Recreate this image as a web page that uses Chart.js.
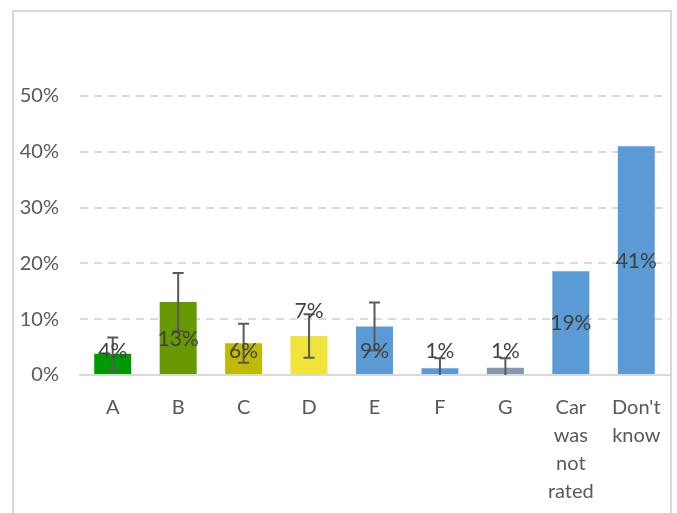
<!DOCTYPE html>
<html>
<head>
<meta charset="utf-8">
<script src="https://cdn.jsdelivr.net/npm/chart.js@4"></script>
<style>
  html, body { margin: 0; padding: 0; background: #ffffff; overflow: hidden; }
  #frame { position: absolute; left: 12px; top: 10px; width: 656px; height: 530px; border: 2px solid #d9d9d9; background: #fff; }
  canvas { display: block; }
</style>
</head>
<body>
<div id="frame"><canvas id="c" width="656" height="501"></canvas></div>
<script>
// ---- data ----
const categories = ["A", "B", "C", "D", "E", "F", "G", ["Car", "was", "not", "rated"], ["Don't", "know"]];
const values = [3.8, 13.1, 5.7, 7.0, 8.7, 1.2, 1.3, 18.6, 41.0];
const labels = ["4%", "13%", "6%", "7%", "9%", "1%", "1%", "19%", "41%"];
const errors = [2.9, 5.2, 3.5, 3.9, 4.3, 1.8, 1.7, null, null];
const yTicks = [0, 10, 20, 30, 40, 50];

const barColors = ["#009a00", "#669900", "#c0bb00", "#f0e33c", "#5b9bd5", "#5b9bd5", "#8497b0", "#5b9bd5", "#5b9bd5"];
const FONT = "Lato, 'Open Sans', sans-serif";

const overlayPlugin = {
  id: "overlay",
  afterDatasetsDraw(chart, args, opts) {
    const ctx = chart.ctx;
    const ys = chart.scales.y;
    const meta = chart.getDatasetMeta(0);
    const area = chart.chartArea;
    // error bars
    ctx.save();
    ctx.beginPath();
    ctx.rect(area.left, area.top - 20, area.right - area.left, area.bottom - area.top + 20);
    ctx.clip();
    ctx.strokeStyle = "#595959";
    ctx.lineWidth = 2;
    meta.data.forEach((bar, i) => {
      const e = errors[i];
      if (e == null) return;
      const x = bar.x;
      const yHi = ys.getPixelForValue(values[i] + e);
      const yLo = ys.getPixelForValue(values[i] - e);
      ctx.beginPath();
      ctx.moveTo(x, yHi); ctx.lineTo(x, yLo);
      ctx.moveTo(x - 5.5, yHi); ctx.lineTo(x + 5.5, yHi);
      ctx.moveTo(x - 5.5, yLo); ctx.lineTo(x + 5.5, yLo);
      ctx.stroke();
    });
    ctx.restore();
    // data labels
    ctx.save();
    ctx.fillStyle = "#404040";
    ctx.font = "21px " + FONT;
    ctx.textAlign = "center";
    ctx.textBaseline = "middle";
    const floorY = ys.getPixelForValue(opts.labelFloor);
    meta.data.forEach((bar, i) => {
      let y;
      if (opts.aboveBar.includes(i)) {
        y = bar.y - opts.aboveOffset;
      } else {
        y = Math.min((bar.y + bar.base) / 2, floorY);
      }
      ctx.fillText(labels[i], bar.x, y + 1);
    });
    ctx.restore();
  }
};

new Chart(document.getElementById("c"), {
  type: "bar",
  data: {
    labels: categories,
    datasets: [{
      data: values,
      backgroundColor: barColors,
      borderWidth: 0,
      barPercentage: 0.565,
      categoryPercentage: 1.0
    }]
  },
  options: {
    responsive: false,
    animation: false,
    events: [],
    layout: { padding: { top: 84, right: 1, left: 0, bottom: 0 } },
    plugins: {
      legend: { display: false },
      tooltip: { enabled: false },
      title: { display: false },
      overlay: { labelFloor: 4.5, aboveBar: [3], aboveOffset: 26 }
    },
    scales: {
      x: {
        grid: { display: false, drawTicks: false },
        border: { display: true, color: "#d9d9d9", width: 2 },
        ticks: {
          color: "#595959",
          font: { family: FONT, size: 20, lineHeight: 1.39 },
          padding: 19,
          maxRotation: 0,
          autoSkip: false
        },
        afterFit(s) { s.height = 138; s.paddingLeft = 0; s.paddingRight = 0; }
      },
      y: {
        min: 0,
        max: 50,
        afterBuildTicks(s) { s.ticks = yTicks.map(v => ({ value: v })); },
        grid: {
          color: (c) => c.tick && c.tick.value === 0 ? "rgba(0,0,0,0)" : "#d9d9d9",
          lineWidth: 2,
          drawTicks: false
        },
        border: { display: false, dash: [8, 6] },
        ticks: {
          color: "#595959",
          font: { family: FONT, size: 20 },
          padding: 21,
          callback: (v) => v + "%"
        },
        afterFit(s) { s.width = 66; }
      }
    }
  },
  plugins: [overlayPlugin]
});
</script>
</body>
</html>
